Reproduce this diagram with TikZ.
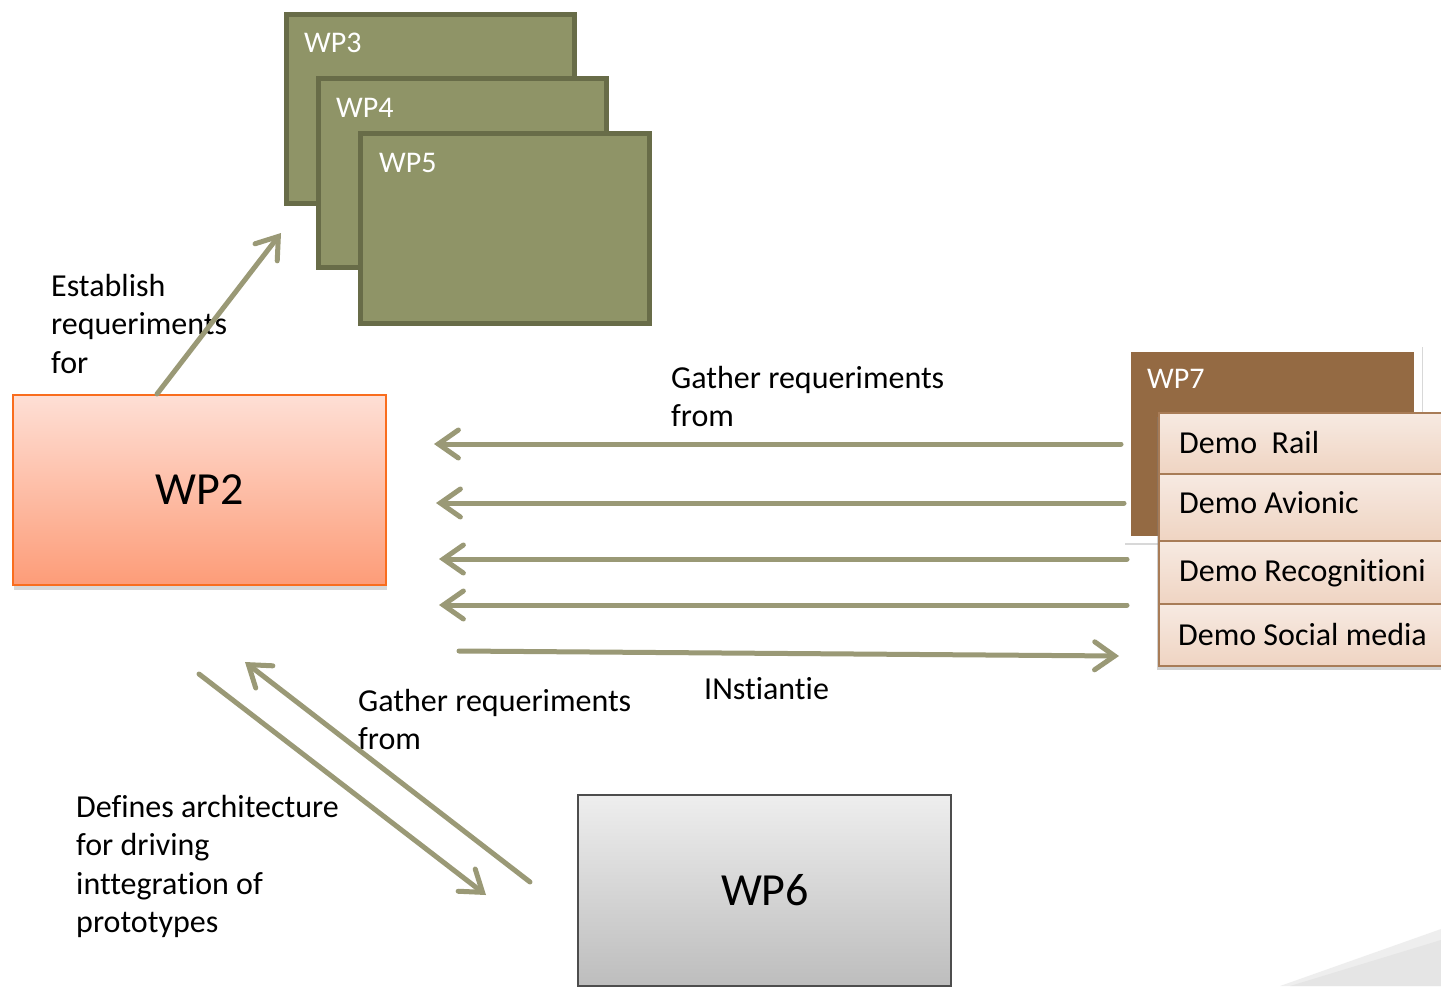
\documentclass[tikz,border=0pt]{standalone}
\usepackage{fontspec}
\setmainfont{Carlito}[Ligatures=NoCommon]
\usetikzlibrary{arrows.meta,shadows,calc}
\definecolor{olivefill}{HTML}{8F9467}
\definecolor{oliveline}{HTML}{686C48}
\definecolor{arrowcol}{HTML}{9A9976}
\definecolor{wpbrown}{HTML}{946A43}
\definecolor{demotop}{HTML}{F7EAE2}
\definecolor{demobot}{HTML}{EFD4C2}
\definecolor{demoline}{HTML}{A87C57}
\definecolor{wptwotop}{HTML}{FEDFD5}
\definecolor{wptwobot}{HTML}{FD9C78}
\definecolor{wptwoline}{HTML}{F96D1E}
\definecolor{wpsixtop}{HTML}{EEEEEE}
\definecolor{wpsixbot}{HTML}{BDBDBD}
\definecolor{wpsixline}{HTML}{4D4D4D}
\begin{document}
\begin{tikzpicture}[x=1pt,y=-1pt,
  olivebox/.style={draw=oliveline, line width=5pt, fill=olivefill, anchor=north west, inner sep=0pt, outer sep=0pt},
  boxlabel/.style={text=white, font=\fontsize{30}{34}\selectfont, anchor=base west, inner sep=0pt},
  txt/.style={font=\fontsize{32}{38.5}\selectfont, align=left, anchor=north west, inner sep=0pt},
  demobox/.style={draw=demoline, line width=2pt, top color=demotop, bottom color=demobot, anchor=north west, inner sep=0pt, outer sep=0pt, minimum width=300pt,
     drop shadow={shadow xshift=-2pt, shadow yshift=-4pt, opacity=0.35}},
  demotxt/.style={font=\fontsize{32}{38}\selectfont, anchor=base west, inner sep=0pt},
  flow/.style={draw=arrowcol, line width=5pt, line cap=round, -{Straight Barb[length=20pt, width=28pt, line cap=round]}},
  bigtxt/.style={font=\fontsize{46}{50}\selectfont}
]
\clip (0,0) rectangle (1441,986);
\fill[white] (0,0) rectangle (1441,986);

% slide curl at bottom right
\fill[gray!25, opacity=0.5] (1280,986) -- (1441,929) -- (1441,986) -- cycle;
\fill[gray!20!white] (1290,986) -- (1441,940) -- (1441,986) -- cycle;

% WP3/4/5 stack
\node[olivebox, minimum width=288pt, minimum height=189pt] (wp3) at (286,14) {};
\node[boxlabel] (wp3l) at (304,52) {WP3};
\node[olivebox, minimum width=288pt, minimum height=189pt] (wp4) at (318,78) {};
\node[boxlabel] (wp4l) at (336,117) {WP4};
\node[olivebox, minimum width=289pt, minimum height=190pt] (wp5) at (360,133) {};
\node[boxlabel] (wp5l) at (379,172) {WP5};

% WP2
\node[draw=wptwoline, line width=2.5pt, top color=wptwotop, bottom color=wptwobot, anchor=north west,
  minimum width=373pt, minimum height=190pt, inner sep=0pt, outer sep=0pt,
  drop shadow={shadow xshift=1pt, shadow yshift=-5pt, opacity=0.3}] (wp2) at (13,395) {};
\node[bigtxt] (wp2l) at (wp2.center) {WP2};

% WP6
\node[draw=wpsixline, line width=2pt, top color=wpsixtop, bottom color=wpsixbot, anchor=north west,
  minimum width=373pt, minimum height=191pt, inner sep=0pt, outer sep=0pt] (wp6) at (578,795) {};
\node[bigtxt] (wp6l) at (765,890) {WP6};

% WP7 group
\node[fill=white, anchor=north west, minimum width=298pt, minimum height=198pt, inner sep=0pt, outer sep=0pt,
  drop shadow={shadow xshift=1pt, shadow yshift=-2pt, opacity=0.3}] (wp7bg) at (1124,345) {};
\node[fill=wpbrown, anchor=north west, minimum width=283pt, minimum height=184pt, inner sep=0pt, outer sep=0pt] (wp7) at (1131,352) {};
\node[boxlabel] (wp7l) at (1147,388) {WP7};

\node[demobox, minimum height=61pt] (rail) at (1159,413) {};
\node[demobox, minimum height=67pt] (avio) at (1159,474) {};
\node[demobox, minimum height=63pt] (reco) at (1159,541) {};
\node[demobox, minimum height=62pt] (soc) at (1159,604) {};
\node[demotxt] (raill) at (1179,453) {Demo\ \ Rail};
\node[demotxt] (avil) at (1179,513) {Demo Avionic};
\node[demotxt] (recl) at (1179,581) {Demo Recognitioni};
\node[demotxt] (socl) at (1178,645) {Demo Social media};

% texts
\node[txt] (t1) at (51,274) {Establish\\requeriments\\for};
\node[txt] (t2) at (671,366) {Gather requeriments\\from};
\node[txt] (t3) at (704,677) {INstiantie};
\node[txt] (t4) at (358,689) {Gather requeriments\\from};
\node[txt] (t5) at (76,795) {Defines architecture\\for driving\\inttegration of\\prototypes};

% connector end points
\coordinate (a1s) at (157,394); \coordinate (a1e) at (281,233);
\coordinate (r1s) at (1121,444); \coordinate (r1e) at (434,444);
\coordinate (r2s) at (1124,503); \coordinate (r2e) at (436,503);
\coordinate (r3s) at (1127,559); \coordinate (r3e) at (439,559);
\coordinate (r4s) at (1127,605); \coordinate (r4e) at (439,605);
\coordinate (insS) at (459,651); \coordinate (insE) at (1119,656);
\coordinate (d1s) at (199,674); \coordinate (d1e) at (486,895);
\coordinate (d2s) at (530,882); \coordinate (d2e) at (245,662);

\draw[flow] (a1s) -- (a1e);
\draw[flow] (r1s) -- (r1e);
\draw[flow] (r2s) -- (r2e);
\draw[flow] (r3s) -- (r3e);
\draw[flow] (r4s) -- (r4e);
\draw[flow] (insS) -- (insE);
\draw[flow] (d1s) -- (d1e);
\draw[flow] (d2s) -- (d2e);
\end{tikzpicture}
\end{document}
